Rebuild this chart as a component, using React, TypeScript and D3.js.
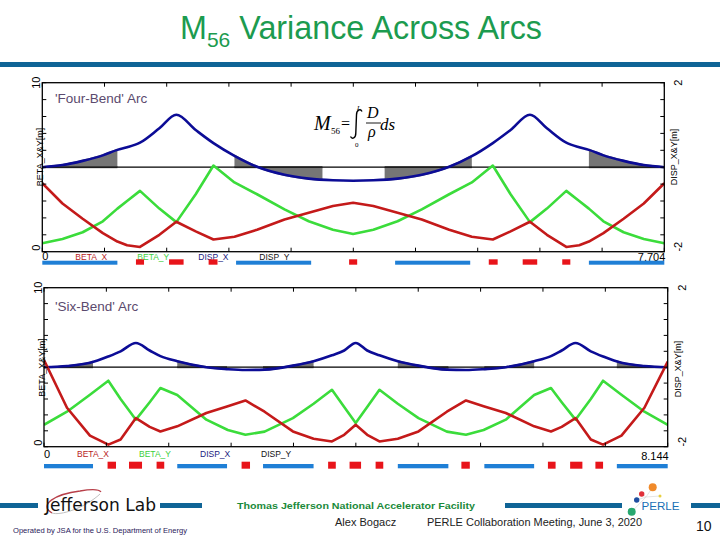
import React, { useEffect } from "react";
import * as d3 from "d3";

// ---------- Four-Bend arc ----------
const fourLength = 7.704;
const fourS = [0, 0.25, 0.5, 0.75, 0.93, 1.05, 1.21, 1.45, 1.66, 1.9, 2.12, 2.38, 2.66, 3.0, 3.3, 3.6, 3.85, 4.1, 4.4, 4.7, 5.04, 5.32, 5.58, 5.8, 6.04, 6.25, 6.49, 6.65, 6.77, 6.95, 7.2, 7.45, 7.704];
const fourBetaX = [4.05, 2.85, 1.95, 1.1, 0.6, 0.38, 0.28, 1.0, 1.77, 1.2, 0.72, 0.88, 1.3, 1.9, 2.3, 2.7, 2.9, 2.7, 2.3, 1.9, 1.3, 0.88, 0.72, 1.2, 1.77, 1.0, 0.28, 0.38, 0.6, 1.1, 1.95, 2.85, 4.05];
const fourBetaY = [0.5, 0.75, 1.15, 1.8, 2.55, 3.0, 3.6, 2.55, 1.75, 3.4, 5.1, 4.1, 3.4, 2.5, 1.8, 1.3, 1.05, 1.3, 1.8, 2.5, 3.4, 4.1, 5.1, 3.4, 1.75, 2.55, 3.6, 3.0, 2.55, 1.8, 1.15, 0.75, 0.5];
const fourDisp = [0, 0.05, 0.15, 0.28, 0.41, 0.47, 0.58, 0.92, 1.24, 0.88, 0.57, 0.27, 0.01, -0.18, -0.27, -0.31, -0.32, -0.31, -0.27, -0.18, 0.01, 0.26, 0.57, 0.88, 1.24, 0.92, 0.58, 0.47, 0.41, 0.28, 0.15, 0.05, 0];
const fourDipoles: [number, number][] = [[0, 0.93], [2.4, 3.33], [4.37, 5.3], [6.77, 7.704]];
const fourQuads: [number, number][] = [[1.16, 1.26], [1.57, 1.75], [2.06, 2.17], [3.8, 3.9], [5.53, 5.64], [5.95, 6.13], [6.44, 6.54]];
const fourShade: [number, number][] = [[0, 0.93], [2.38, 3.47], [4.24, 5.32], [6.77, 7.704]];

// ---------- Six-Bend arc ----------
const sixLength = 8.144;
const sixS = [0, 0.3, 0.6, 0.84, 1.0, 1.2, 1.38, 1.52, 1.74, 2.12, 2.4, 2.63, 2.88, 3.25, 3.52, 3.76, 3.92, 4.07, 4.22, 4.38, 4.62, 4.89, 5.26, 5.51, 5.74, 6.03, 6.4, 6.62, 6.76, 6.94, 7.14, 7.3, 7.54, 7.84, 8.144];
const sixBetaX = [5.45, 2.45, 0.7, 0.13, 0.45, 1.8, 1.25, 0.96, 1.28, 2.12, 2.55, 2.91, 2.2, 0.96, 0.5, 0.33, 0.75, 1.38, 0.75, 0.33, 0.5, 0.96, 2.2, 2.91, 2.55, 2.12, 1.28, 0.96, 1.25, 1.8, 0.45, 0.13, 0.7, 2.45, 5.35];
const sixBetaY = [1.38, 2.2, 3.27, 4.15, 3.0, 1.7, 2.8, 3.69, 3.25, 1.7, 1.05, 0.75, 0.95, 1.8, 2.7, 3.58, 2.5, 1.49, 2.5, 3.58, 2.7, 1.8, 0.95, 0.75, 1.05, 1.7, 3.25, 3.69, 2.8, 1.7, 3.0, 4.15, 3.27, 2.2, 1.38];
const sixDisp = [0, 0.03, 0.11, 0.27, 0.4, 0.61, 0.42, 0.28, 0.15, 0.0, -0.05, -0.07, -0.06, 0.04, 0.15, 0.3, 0.42, 0.61, 0.42, 0.3, 0.15, 0.04, -0.06, -0.07, -0.05, 0.0, 0.15, 0.28, 0.42, 0.61, 0.4, 0.27, 0.11, 0.03, 0];
const sixDipoles: [number, number][] = [[0, 0.64], [1.74, 2.39], [2.86, 3.52], [4.62, 5.28], [5.75, 6.4], [7.48, 8.144]];
const sixQuads: [number, number][] = [[0.83, 0.94], [1.11, 1.28], [1.47, 1.57], [2.58, 2.69], [3.71, 3.81], [3.99, 4.14], [4.33, 4.43], [5.45, 5.56], [6.58, 6.68], [6.87, 7.03], [7.2, 7.3]];
const sixShade: [number, number][] = [[0, 0.64], [1.74, 2.39], [2.86, 3.52], [4.62, 5.28], [5.75, 6.4], [7.48, 8.144]];

const betaTicks = ["0", "10"];
const dispTicks = ["-2", "2"];
const legendNames = ["BETA_X", "BETA_Y", "DISP_X", "DISP_Y"];

const SANS = "'Liberation Sans', Arial, Helvetica, sans-serif";
const SERIF = "'Liberation Serif', 'Times New Roman', serif";
const C_RED = "#c41a1a";
const C_GREEN = "#3bdc3b";
const C_BLUE = "#0c0c96";
const C_GRAY = "#767676";
const C_EL_BLUE = "#1f7fd6";
const C_EL_RED = "#e8141a";
const C_BAND = "#0f6496";

type PanelProps = {
  id: string;
  L: number;
  s: number[];
  bx: number[];
  by: number[];
  d: number[];
  dipoles: [number, number][];
  quads: [number, number][];
  shade: [number, number][];
  left: number;
  right: number;
  top: number;
  bottom: number;
  title: string;
  titleY: number;
  legendY: number;
  blueY: [number, number];
  redY: [number, number];
  lenY: number;
  leftCY: number;
  rightCY: number;
};

function Panel(p: PanelProps) {
  const x = d3.scaleLinear().domain([0, p.L]).range([p.left, p.right]);
  const yb = d3.scaleLinear().domain([0, 10]).range([p.bottom, p.top]);
  const yd = d3.scaleLinear().domain([-2, 2]).range([p.bottom, p.top]);
  const idx = d3.range(p.s.length);
  const lineBx = d3.line<number>().x((i) => x(p.s[i])).y((i) => yb(p.bx[i]))(idx) || "";
  const lineBy = d3.line<number>().x((i) => x(p.s[i])).y((i) => yb(p.by[i]))(idx) || "";
  const lineD = d3.line<number>().curve(d3.curveMonotoneX).x((i) => x(p.s[i])).y((i) => yd(p.d[i]))(idx) || "";
  const areaD =
    d3
      .area<number>()
      .curve(d3.curveMonotoneX)
      .x((i) => x(p.s[i]))
      .y0(() => yd(0))
      .y1((i) => yd(p.d[i]))(idx) || "";
  const ticks = d3.range(11);
  const legendX = [33, 95, 156, 217];
  const legendColors = ["#b81c1c", "#3ccf3c", "#1a1a80", "#111"];
  return (
    <g>
      <defs>
        <clipPath id={`clip-${p.id}`}>
          {p.shade.map((r, i) => (
            <rect key={i} x={x(r[0])} y={p.top} width={x(r[1]) - x(r[0])} height={p.bottom - p.top} />
          ))}
        </clipPath>
        <clipPath id={`plot-${p.id}`}>
          <rect x={p.left} y={p.top} width={p.right - p.left} height={p.bottom - p.top} />
        </clipPath>
      </defs>
      <path d={areaD} fill={C_GRAY} stroke={C_GRAY} strokeWidth={2.2} clipPath={`url(#clip-${p.id})`} />
      <line x1={p.left} x2={p.right} y1={yd(0)} y2={yd(0)} stroke="#000" strokeWidth={1.3} />
      <g clipPath={`url(#plot-${p.id})`}>
        <path d={lineD} fill="none" stroke={C_BLUE} strokeWidth={2.6} strokeLinejoin="round" />
        <path d={lineBy} fill="none" stroke={C_GREEN} strokeWidth={2.6} strokeLinejoin="round" />
        <path d={lineBx} fill="none" stroke={C_RED} strokeWidth={2.6} strokeLinejoin="round" />
      </g>
      <rect x={p.left} y={p.top} width={p.right - p.left} height={p.bottom - p.top} fill="none" stroke="#000" strokeWidth={1.3} />
      {ticks.map((i) => {
        const tx = x((p.L * i) / 10);
        const ty = p.bottom - ((p.bottom - p.top) * i) / 10;
        return (
          <g key={i} stroke="#000" strokeWidth={1}>
            <line x1={tx} x2={tx} y1={p.top} y2={p.top + 4} />
            <line x1={tx} x2={tx} y1={p.bottom} y2={p.bottom - 4} />
            <line x1={p.left} x2={p.left + 4} y1={ty} y2={ty} />
            <line x1={p.right} x2={p.right - 4} y1={ty} y2={ty} />
          </g>
        );
      })}
      <text transform={`translate(${p.left - 2},${p.bottom - 4}) rotate(-90)`} fontFamily={SANS} fontSize={11} textAnchor="middle">{betaTicks[0]}</text>
      <text transform={`translate(${p.left - 2},${p.top}) rotate(-90)`} fontFamily={SANS} fontSize={11} textAnchor="middle">{betaTicks[1]}</text>
      <text transform={`translate(${p.left + 1},${p.leftCY}) rotate(-90)`} fontFamily={SANS} fontSize={9} textAnchor="middle">BETA_X&amp;Y[m]</text>
      <text transform={`translate(${p.right + 18},${p.bottom - 5}) rotate(-90)`} fontFamily={SANS} fontSize={11} textAnchor="middle">{dispTicks[0]}</text>
      <text transform={`translate(${p.right + 18},${p.top}) rotate(-90)`} fontFamily={SANS} fontSize={11} textAnchor="middle">{dispTicks[1]}</text>
      <text transform={`translate(${p.right + 13},${p.rightCY}) rotate(-90)`} fontFamily={SANS} fontSize={9} textAnchor="middle">DISP_X&amp;Y[m]</text>
      <text x={55} y={p.titleY} fontFamily={SANS} fontSize={13.5} fill="#5b4a6e">{p.title}</text>
      <text x={p.left} y={p.legendY} fontFamily={SANS} fontSize={11}>0</text>
      {legendNames.map((n, i) => (
        <text key={n} x={p.left + legendX[i]} y={p.legendY - 0.5} fontFamily={SANS} fontSize={8.5} fill={legendColors[i]}>{n}</text>
      ))}
      <text x={p.right + 1} y={p.lenY} fontFamily={SANS} fontSize={11} textAnchor="end">{p.L.toFixed(3)}</text>
      {p.dipoles.map((r, i) => (
        <rect key={"b" + i} x={x(r[0])} y={p.blueY[0]} width={x(r[1]) - x(r[0])} height={p.blueY[1] - p.blueY[0]} fill={C_EL_BLUE} />
      ))}
      {p.quads.map((r, i) => (
        <rect key={"q" + i} x={x(r[0])} y={p.redY[0]} width={x(r[1]) - x(r[0])} height={p.redY[1] - p.redY[0]} fill={C_EL_RED} />
      ))}
    </g>
  );
}

export default function App() {
  useEffect(() => {
    document.body.style.margin = "0";
  }, []);
  return (
    <svg width={720} height={540} viewBox="0 0 720 540" style={{ position: "absolute", left: 0, top: 0, background: "#fff" }}>
      <rect x={0} y={0} width={720} height={540} fill="#fff" />
      <text x={180} y={39} fontFamily={SANS} fontSize={32.3} fill="#1c9b4f">
        M<tspan fontSize={21} dy={8}>56</tspan>
        <tspan dy={-8}> Variance Across Arcs</tspan>
      </text>
      <rect x={0} y={62} width={720} height={5} fill={C_BAND} />

      <Panel
        id="four"
        L={fourLength}
        s={fourS}
        bx={fourBetaX}
        by={fourBetaY}
        d={fourDisp}
        dipoles={fourDipoles}
        quads={fourQuads}
        shade={fourShade}
        left={42.3}
        right={664.3}
        top={82.7}
        bottom={251.7}
        title="'Four-Bend' Arc"
        titleY={103}
        legendY={260}
        blueY={[260.7, 264.7]}
        redY={[259.3, 264.7]}
        lenY={261}
        leftCY={157}
        rightCY={157}
      />
      <Panel
        id="six"
        L={sixLength}
        s={sixS}
        bx={sixBetaX}
        by={sixBetaY}
        d={sixDisp}
        dipoles={sixDipoles}
        quads={sixQuads}
        shade={sixShade}
        left={44}
        right={667.7}
        top={287.7}
        bottom={446.7}
        title="'Six-Bend' Arc"
        titleY={311}
        legendY={457.5}
        blueY={[464, 468.3]}
        redY={[461.7, 468.7]}
        lenY={459.5}
        leftCY={367.5}
        rightCY={369}
      />

      {/* M56 formula */}
      <g fontFamily={SERIF} fill="#000">
        <text x={314} y={130} fontSize={20} fontStyle="italic">M</text>
        <text x={331} y={134} fontSize={9}>56</text>
        <text x={341} y={129} fontSize={16}>=</text>
        <path d="M362 111.5 C 360.5 108.5, 356.5 109.5, 356.5 115 L 355.8 133 C 355.8 138.5, 352 139.5, 350.5 136.5" fill="none" stroke="#000" strokeWidth={1.4} />
        <text x={357} y={110} fontSize={7} fontStyle="italic">L</text>
        <text x={355} y={147} fontSize={7}>0</text>
        <text x={367} y={118} fontSize={16} fontStyle="italic">D</text>
        <line x1={366} x2={381} y1={123} y2={123} stroke="#000" strokeWidth={0.9} />
        <text x={368} y={137} fontSize={16} fontStyle="italic">ρ</text>
        <text x={380} y={130} fontSize={17} fontStyle="italic">ds</text>
      </g>

      {/* Footer */}
      <rect x={0} y={503} width={38} height={5} fill={C_BAND} />
      <rect x={160} y={503} width={42} height={5} fill={C_BAND} />
      <rect x={505} y={503} width={117} height={5} fill={C_BAND} />
      <rect x={691} y={503} width={29} height={5} fill={C_BAND} />
      <path d="M52 513 C 38 505, 55 494, 80 491 C 92 489, 99 489, 101 492" fill="none" stroke="#b8404a" strokeWidth={1.3} />
      <path d="M52 513 C 60 516, 85 508, 100 494" fill="none" stroke="#b0b0b0" strokeWidth={0.8} />
      <text x={45} y={511} fontFamily="'DejaVu Sans', Verdana, sans-serif" fontSize={18.5} fill="#111" textLength={111} lengthAdjust="spacingAndGlyphs">Jefferson Lab</text>
      <text x={13} y={533} fontFamily={SANS} fontSize={7} fill="#2a1a5a" textLength={174} lengthAdjust="spacingAndGlyphs">Operated by JSA for the U.S. Department of Energy</text>
      <text x={237} y={509} fontFamily={SANS} fontSize={9.5} fontWeight="bold" fill="#1a8a3a" textLength={238} lengthAdjust="spacingAndGlyphs">Thomas Jefferson National Accelerator Facility</text>
      <text x={335} y={526} fontFamily={SANS} fontSize={11} fill="#222">Alex Bogacz</text>
      <text x={427} y={526} fontFamily={SANS} fontSize={11} fill="#222" textLength={215} lengthAdjust="spacingAndGlyphs">PERLE Collaboration Meeting, June 3, 2020</text>
      <text x={696} y={531} fontFamily={SANS} fontSize={14} fill="#111">10</text>
      <g stroke="#d8d8d8" strokeWidth={0.7}>
        <line x1={646} y1={497} x2={652.7} y2={487.3} />
        <line x1={646} y1={497} x2={641.7} y2={494} />
        <line x1={646} y1={497} x2={636.7} y2={500} />
        <line x1={646} y1={497} x2={660} y2={496} />
        <line x1={646} y1={497} x2={631.7} y2={511.7} />
      </g>
      <circle cx={652.7} cy={487.3} r={4} fill="#f08a2a" />
      <circle cx={641.7} cy={494} r={2.7} fill="#e0303a" />
      <circle cx={636.7} cy={500} r={2.7} fill="#1f4fa0" />
      <circle cx={631.7} cy={511.7} r={4} fill="#28a870" />
      <circle cx={660} cy={496} r={1.5} fill="#e8d040" />
      <text x={641.5} y={510} fontFamily={SANS} fontSize={11.5} fill="#1a6fb5" textLength={38} lengthAdjust="spacingAndGlyphs">PERLE</text>
    </svg>
  );
}
